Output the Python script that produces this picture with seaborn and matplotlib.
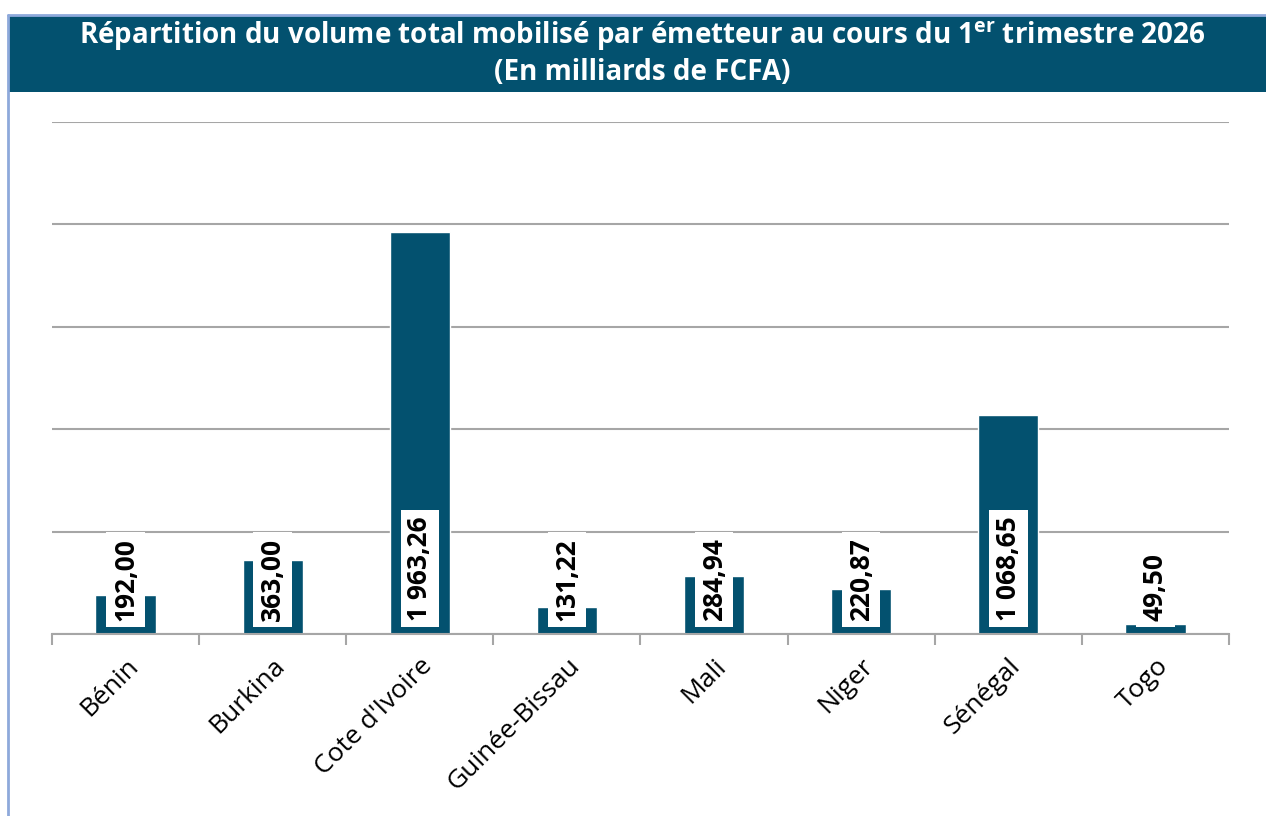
import matplotlib
matplotlib.use("Agg")
import matplotlib.pyplot as plt
import seaborn as sns
import pandas as pd
from matplotlib.patches import Rectangle
from matplotlib.lines import Line2D

# données (milliards de FCFA)
emetteurs = ["Bénin", "Burkina", "Cote d'Ivoire", "Guinée-Bissau", "Mali", "Niger", "Sénégal", "Togo"]
volumes = [192.00, 363.00, 1963.26, 131.22, 284.94, 220.87, 1068.65, 49.50]

df = pd.DataFrame({"emetteur": emetteurs, "volume": volumes})

bleu = "#03516F"
gris = "#A6A6A6"

sns.set_theme(style="white")
plt.rcParams["font.family"] = ["Open Sans", "DejaVu Sans"]

fig = plt.figure(figsize=(12.66, 8.16), dpi=100)
ax = fig.add_axes([52 / 1266, 1 - 634 / 816, (1229 - 52) / 1266, (634 - 122) / 816])

sns.barplot(data=df, x="emetteur", y="volume", color=bleu, width=0.41,
            saturation=1, ax=ax, zorder=2)

ax.set_ylim(0, 2500)
ax.set_xlim(-0.5, len(emetteurs) - 0.5)
ax.set_yticks([0, 500, 1000, 1500, 2000, 2500])
ax.yaxis.grid(True, color=gris, linewidth=1.5, zorder=0)
ax.tick_params(axis="y", left=False, labelleft=False)
ax.set_xlabel("")
ax.set_ylabel("")
for s in ["left", "right", "top"]:
    ax.spines[s].set_visible(False)
ax.spines["bottom"].set_color(gris)
ax.spines["bottom"].set_linewidth(1.5)

# graduations entre catégories
ax.set_xticks([i - 0.5 for i in range(len(emetteurs) + 1)], minor=True)
ax.tick_params(axis="x", which="minor", bottom=True, length=8, width=1.5, color=gris)
ax.tick_params(axis="x", which="major", bottom=False, pad=8)
ax.set_xticks(range(len(emetteurs)))
ax.set_xticklabels(emetteurs, rotation=45, ha="right", rotation_mode="anchor",
                   fontsize=19, color="black")


def fr(v):
    s = f"{v:,.2f}"
    return s.replace(",", " ").replace(".", ",")


for i, v in enumerate(volumes):
    ax.annotate(fr(v), xy=(i, 0), xytext=(0, 9.5), textcoords="offset points",
                rotation=90, ha="center", va="bottom", fontsize=19, fontweight="bold",
                color="black", zorder=5,
                bbox=dict(boxstyle="square,pad=0.22", fc="white", ec="none"))

# bandeau de titre
W, H = 1266, 816
fig.patches.append(Rectangle((8 / W, 1 - 92 / H), 1 - 8 / W, (92 - 15) / H,
                             transform=fig.transFigure, fc=bleu, ec="none", zorder=0))
fig.lines.append(Line2D([8 / W, 8 / W], [0, 1 - 15 / H], transform=fig.transFigure,
                        color="#8EA9DB", linewidth=2))
fig.lines.append(Line2D([8 / W, 1], [1 - 15 / H, 1 - 15 / H], transform=fig.transFigure,
                        color="#8EA9DB", linewidth=2))

fig.text(642 / W, 1 - 36 / H,
         r"Répartition du volume total mobilisé par émetteur au cours du 1$^{\mathdefault{er}}$ trimestre 2026",
         ha="center", va="center", color="white", fontsize=20, fontweight="bold")
fig.text(642 / W, 1 - 73 / H, "(En milliards de FCFA)",
         ha="center", va="center", color="white", fontsize=20, fontweight="bold")

fig.savefig("out.png", dpi=100)
